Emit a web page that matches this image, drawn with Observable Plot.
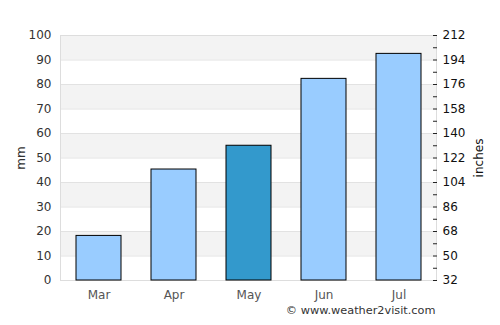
<!DOCTYPE html>
<html><head><meta charset="utf-8">
<script src="https://cdn.jsdelivr.net/npm/d3@7"></script>
<script src="https://cdn.jsdelivr.net/npm/@observablehq/plot@0.6"></script>
<style>body{margin:0;background:#fff;font-family:"DejaVu Sans",sans-serif}</style>
</head><body><div id="chart"></div>
<script>
const months = ["Mar","Apr","May","Jun","Jul"];
const rainfall = [18.2, 45.3, 55, 82.3, 92.5];
const highlight = ["May"];
const leftTicks = [0,10,20,30,40,50,60,70,80,90,100];
const rightTickLabels = [32,50,68,86,104,122,140,158,176,194,212];
const minorTicks = [5,15,25,35,45,55,65,75,85,95];
const bands = [[10,20],[30,40],[50,60],[70,80],[90,100]];
const credit = "© www.weather2visit.com";

const data = months.map((m,i)=>({month:m, value:rainfall[i], hi: highlight.includes(m)}));

const chart = Plot.plot({
  width: 500, height: 325,
  marginLeft: 60, marginRight: 64, marginTop: 35, marginBottom: 45,
  style: {fontFamily: "DejaVu Sans", fontSize: "12px", background: "#fff"},
  x: {domain: months, paddingInner: 0.4, paddingOuter: 0.2},
  y: {domain: [0,100]},
  marks: [
    Plot.rect(bands, {y1: d=>d[0], y2: d=>d[1], fill: "#f3f3f3"}),
    Plot.ruleY(leftTicks, {stroke: "#e2e2e2"}),
    Plot.frame({stroke: "#dddddd"}),
    Plot.barY(data, {x: "month", y: "value", fill: d=>d.hi ? "#3399cc" : "#99ccff", stroke: "#000", strokeWidth: 1}),
    Plot.axisY({anchor: "left", ticks: leftTicks, tickSize: 0, tickPadding: 9, fill: "#333", label: "mm", labelAnchor: "center", labelArrow: "none", labelOffset: 44, fontSize: 12}),
    Plot.axisY({anchor: "right", ticks: leftTicks, tickSize: 0, tickFormat: (d,i)=>String(rightTickLabels[i]), tickPadding: 6, fill: "#111", label: "inches", labelAnchor: "center", labelArrow: "none", labelOffset: 46, fontSize: 12}),
    Plot.axisY({anchor: "right", ticks: leftTicks.concat(minorTicks), tickSize: 4, dx: -4, tickFormat: ()=>"", stroke: "#222", label: null}),
    Plot.axisX({anchor: "bottom", tickSize: 0, tickPadding: 10, fill: "#555", label: null, fontSize: 12}),
    Plot.text([credit], {frameAnchor: "bottom-right", dy: 33, dx: -1, text: d=>d, fontSize: 11.3, fill: "#333", textAnchor: "end"})
  ]
});
document.getElementById("chart").appendChild(chart);
</script></body></html>
